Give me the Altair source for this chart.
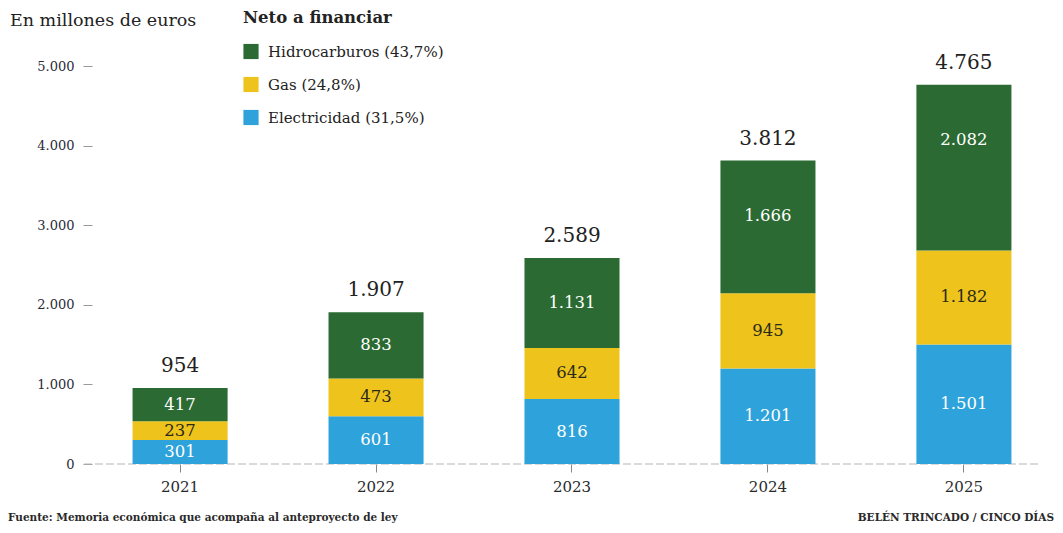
import altair as alt
import pandas as pd

years = ["2021", "2022", "2023", "2024", "2025"]
series = ["Hidrocarburos (43,7%)", "Gas (24,8%)", "Electricidad (31,5%)"]
hidrocarburos = [417, 833, 1131, 1666, 2082]
gas = [237, 473, 642, 945, 1182]
electricidad = [301, 601, 816, 1201, 1501]
totals = [954, 1907, 2589, 3812, 4765]
colors = ["#2b6b33", "#eec41c", "#2ea2da"]
y_ticks = [0, 1000, 2000, 3000, 4000, 5000]

FONT = "DejaVu Serif"

rows = []
for i, y in enumerate(years):
    rows.append({"year": y, "serie": series[2], "ord": 0, "valor": electricidad[i]})
    rows.append({"year": y, "serie": series[1], "ord": 1, "valor": gas[i]})
    rows.append({"year": y, "serie": series[0], "ord": 2, "valor": hidrocarburos[i]})
df = pd.DataFrame(rows)
df_tot = pd.DataFrame({"year": years, "total": totals})

fmt = "replace(format(datum.{f}, ','), ',', '.')"

x_enc = alt.X(
    "year:N",
    sort=years,
    title=None,
    scale=alt.Scale(paddingInner=0.515, paddingOuter=0.207),
    axis=alt.Axis(
        labelAngle=0, labelFont=FONT, labelFontSize=15, labelColor="#2a2a2a",
        domain=False, ticks=True, tickSize=8, tickColor="#888", labelPadding=7,
    ),
)
y_scale = alt.Scale(domain=[0, 5000], nice=False)

base = alt.Chart(df).transform_stack(
    stack="valor", groupby=["year"], sort=[alt.SortField("ord")], as_=["v0", "v1"]
).transform_calculate(
    mid="datum.ord === 2 ? max((datum.v0 + datum.v1) / 2, datum.v1 - 700) : (datum.v0 + datum.v1) / 2",
    lab=fmt.format(f="valor"),
)

bars = base.mark_bar().encode(
    x=x_enc,
    y=alt.Y(
        "v0:Q", scale=y_scale, title=None,
        axis=alt.Axis(
            values=y_ticks, labelExpr="replace(format(datum.value, ','), ',', '.')",
            domain=False, grid=False, tickSize=9, tickColor="#999",
            labelFont=FONT, labelFontSize=13, labelColor="#2a2a3a", labelPadding=9,
        ),
    ),
    y2="v1:Q",
    color=alt.Color(
        "serie:N",
        scale=alt.Scale(domain=series, range=colors),
        legend=alt.Legend(
            title="Neto a financiar", orient="none", legendX=151, legendY=-56,
            titleFont=FONT, titleFontSize=16.5, titleFontWeight="bold", titleColor="#222",
            labelFont=FONT, labelFontSize=15, labelColor="#222", labelLimit=0,
            symbolType="square", symbolSize=230, symbolStrokeWidth=0, symbolOpacity=1,
            rowPadding=17, titlePadding=17, labelOffset=9,
        ),
    ),
)

seg_labels = base.mark_text(font=FONT, fontSize=16.5, baseline="middle").encode(
    x=alt.X("year:N", sort=years),
    y=alt.Y("mid:Q", scale=y_scale),
    text="lab:N",
    color=alt.condition(
        f"datum.serie === '{series[1]}'", alt.value("#2a2a1a"), alt.value("white")
    ),
)

tot_labels = alt.Chart(df_tot).transform_calculate(
    lab=fmt.format(f="total")
).mark_text(font=FONT, fontSize=20, baseline="alphabetic", dy=-16, color="#222").encode(
    x=alt.X("year:N", sort=years),
    y=alt.Y("total:Q", scale=y_scale),
    text="lab:N",
)

baseline = alt.Chart(pd.DataFrame({"z": [0]})).mark_rule(
    color="#b5b5b5", strokeWidth=1, strokeDash=[8, 3]
).encode(
    y=alt.Y("z:Q", scale=y_scale),
    x=alt.value(-8),
    x2=alt.value(948),
)

title_txt = alt.Chart(pd.DataFrame({"t": ["En millones de euros"]})).mark_text(
    font=FONT, fontSize=17.5, align="left", baseline="alphabetic", color="#222"
).encode(text="t:N", x=alt.value(-82), y=alt.value(-40))

src_txt = alt.Chart(pd.DataFrame({"t": ["Fuente: Memoria económica que acompaña al anteproyecto de ley"]})).mark_text(
    font=FONT, fontSize=10.5, fontWeight="bold", align="left", baseline="alphabetic", color="#2a2a2a"
).encode(text="t:N", x=alt.value(-84), y=alt.value(455))

auth_txt = alt.Chart(pd.DataFrame({"t": ["BELÉN TRINCADO / CINCO DÍAS"]})).mark_text(
    font=FONT, fontSize=10.5, fontWeight="bold", align="right", baseline="alphabetic", color="#2a2a2a"
).encode(text="t:N", x=alt.value(962), y=alt.value(455))

chart = alt.layer(
    baseline, bars, seg_labels, tot_labels, title_txt, src_txt, auth_txt
).properties(
    width=960, height=398,
    autosize=alt.AutoSizeParams(type="none"),
    padding={"left": 84, "top": 58, "right": 3, "bottom": 61},
).configure(background="white").configure_view(stroke=None)

chart.save("out.html", embed_options={"renderer": "svg", "actions": False})
